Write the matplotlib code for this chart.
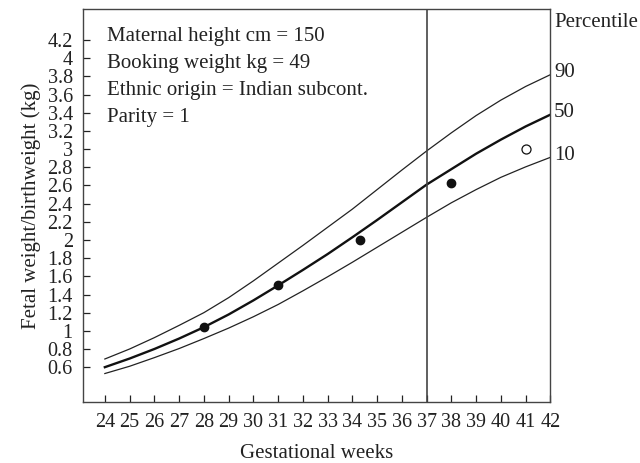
import matplotlib
matplotlib.use("Agg")
import matplotlib.pyplot as plt

plt.rcParams['font.family'] = ['Liberation Serif', 'DejaVu Serif']

weeks = [24, 25, 26, 27, 28, 29, 30, 31, 32, 33, 34, 35, 36, 37, 38, 39, 40, 41, 42]
p90 = [0.69, 0.80, 0.925, 1.06, 1.20, 1.365, 1.55, 1.745, 1.94, 2.14, 2.34, 2.555, 2.77, 2.98,
       3.18, 3.37, 3.54, 3.69, 3.82]
p50 = [0.60, 0.695, 0.80, 0.915, 1.04, 1.18, 1.335, 1.50, 1.67, 1.845, 2.03, 2.22, 2.415, 2.61,
       2.78, 2.95, 3.105, 3.25, 3.38]
p10 = [0.53, 0.61, 0.705, 0.805, 0.915, 1.03, 1.155, 1.29, 1.44, 1.595, 1.755, 1.92, 2.085, 2.25,
       2.41, 2.555, 2.69, 2.805, 2.91]

# scan measurements
scan_weeks = [28.0, 31.0, 34.3, 38.0]
scan_weight = [1.04, 1.50, 2.00, 2.63]
# birthweight
birth_week = [41.0]
birth_weight = [3.00]

yticks = [0.6, 0.8, 1, 1.2, 1.4, 1.6, 1.8, 2, 2.2, 2.4, 2.6, 2.8, 3, 3.2, 3.4, 3.6, 3.8, 4, 4.2]
info = ['Maternal height cm = 150', 'Booking weight kg = 49',
        'Ethnic origin = Indian subcont.', 'Parity = 1']

fig = plt.figure(figsize=(6.4, 4.63), dpi=100)
ax = fig.add_axes([0.129, 0.1324, 0.731, 0.8476])

ax.plot(weeks, p90, color='#222222', lw=0.9)
ax.plot(weeks, p50, color='#111111', lw=1.7)
ax.plot(weeks, p10, color='#222222', lw=0.9)
ax.axvline(37, color='#444444', lw=1.2)

ax.plot(scan_weeks, scan_weight, 'o', color='#111111', ms=6, ls='none')
ax.plot(birth_week, birth_weight, 'o', mfc='white', mec='#111111', mew=0.9, ms=6.5, ls='none')

ax.set_xlim(23.1, 42)
ax.set_ylim(0.22, 4.54)
ax.set_xticks(weeks)
ax.set_xticklabels([str(w) for w in weeks])
ax.set_yticks(yticks)
ax.set_yticklabels(['%g' % v for v in yticks])
ax.tick_params(direction='in', length=5, width=0.9, labelsize=14.5, colors='#222222')
ax.tick_params(axis='x', pad=8)
ax.tick_params(axis='y', pad=7)
for s in ax.spines.values():
    s.set_color('#444444')
    s.set_linewidth(1.0)

ax.set_xlabel('Gestational weeks', fontsize=15, labelpad=9, color='#222222')
ax.set_ylabel('Fetal weight/birthweight (kg)', fontsize=15, labelpad=5, color='#222222')

for i, line in enumerate(info):
    ax.text(0.052, 0.93 - i * 0.0683, line, transform=ax.transAxes, fontsize=15,
            va='center', ha='left', color='#222222')

ax.text(1.008, 4.39, 'Percentile', transform=ax.get_yaxis_transform(), fontsize=15,
        va='center', ha='left', color='#222222', clip_on=False)
for lab, val in zip(['90', '50', '10'], [p90[-1], p50[-1], p10[-1]]):
    ax.text(1.008, val + 0.02, lab, transform=ax.get_yaxis_transform(), fontsize=15,
            va='center', ha='left', color='#222222', clip_on=False)

fig.savefig('out.png', dpi=100)
